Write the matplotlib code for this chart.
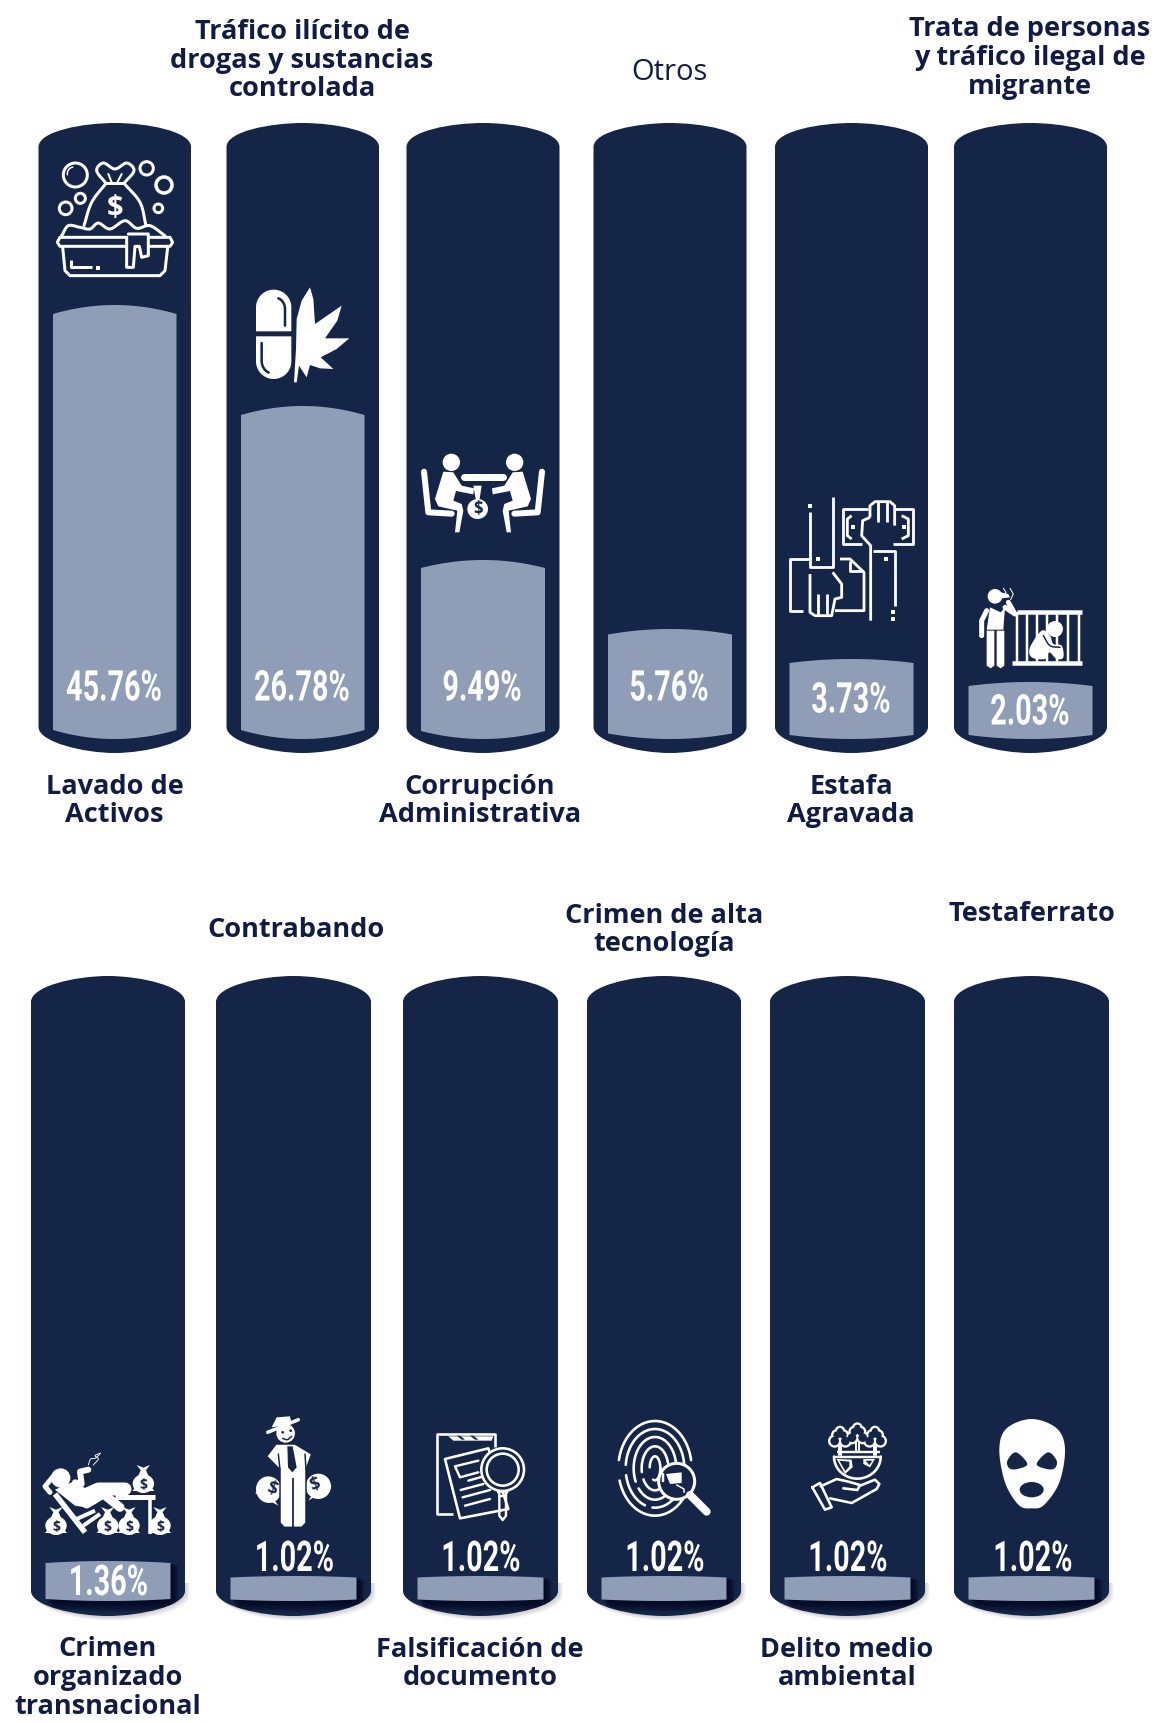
import numpy as np
import matplotlib
matplotlib.use('Agg')
import matplotlib.pyplot as plt
from matplotlib.path import Path
from matplotlib.patches import PathPatch, Polygon, Circle, Ellipse, Rectangle
from matplotlib.patheffects import AbstractPathEffect
from matplotlib.transforms import Affine2D

# ---------- data ----------
row1_values = [45.76, 26.78, 9.49, 5.76, 3.73, 2.03]
row2_values = [1.36, 1.02, 1.02, 1.02, 1.02, 1.02]
row1_names = ['Lavado de\nActivos', 'Tráfico ilícito de\ndrogas y sustancias\ncontrolada',
              'Corrupción\nAdministrativa', 'Otros', 'Estafa\nAgravada',
              'Trata de personas\ny tráfico ilegal de\nmigrante']
row2_names = ['Crimen\norganizado\ntransnacional', 'Contrabando', 'Falsificación de\ndocumento',
              'Crimen de alta\ntecnología', 'Delito medio\nambiental', 'Testaferrato']

# ---------- layout ----------
W, H = 1154, 1724
NAVY, FILL, INK = '#152548', '#8f9eb6', '#111c45'
row1_edges = [(38.5, 191), (226.5, 379), (406.5, 559.5), (593.5, 746.5), (775, 928), (954, 1107)]
row2_edges = [(31, 185), (216, 371), (403, 558), (587, 741), (770, 925), (954, 1109)]
INSET = 14.5
R1 = dict(top=124, sh_t=148, sh_b=728, bot=754, base=740)
R2 = dict(top=977, sh_t=1003, sh_b=1592, bot=1617, base=1602)
AXH = 616

# non-linear value scale of the original graphic: value -> pixel height
knot_v = [0, 1.02, 1.36, 2.03, 3.73, 5.76, 9.49, 26.78, 45.76, 100]
knot_h = [0, 25, 40, 57, 80, 110, 179, 333, 434, 616]
fwd = lambda v: np.interp(v, knot_v, knot_h)
inv = lambda h: np.interp(h, knot_h, knot_v)
depth = lambda v: float(np.interp(v, [1.02, 1.36, 2.03, 3.73, 5.76, 9.49, 26.78], [1.5, 2, 4, 4, 5.5, 8, 9]))

fig = plt.figure(figsize=(W / 100, H / 100), dpi=100, facecolor='white')

def pixel_axes(z):
    a = fig.add_axes([0, 0, 1, 1], zorder=z)
    a.set_xlim(0, W); a.set_ylim(H, 0); a.axis('off'); a.patch.set_alpha(0)
    return a

bg = pixel_axes(0)
ov = pixel_axes(5)

def value_axes(base):
    a = fig.add_axes([0, 1 - base / H, 1, AXH / H], zorder=2)
    a.set_xlim(0, W)
    a.set_yscale('function', functions=(fwd, inv))
    a.set_ylim(0, 100)
    a.axis('off'); a.patch.set_alpha(0)
    return a

def track_path(l, r, R, dx=0, dy=0):
    cx = (l + r) / 2
    v = [(l, R['sh_t']), (l, R['sh_t'] - 16), (l + 45, R['top']), (cx, R['top']),
         (r - 45, R['top']), (r, R['sh_t'] - 16), (r, R['sh_t']),
         (r, R['sh_b']), (r, R['sh_b'] + 15), (r - 45, R['bot']), (cx, R['bot']),
         (l + 45, R['bot']), (l, R['sh_b'] + 15), (l, R['sh_b']), (l, R['sh_t'])]
    c = [Path.MOVETO] + [Path.CURVE4] * 6 + [Path.LINETO] + [Path.CURVE4] * 6 + [Path.CLOSEPOLY]
    return Path([(x + dx, y + dy) for x, y in v], c)

def fill_outline(l, r, v):
    xs = np.linspace(l, r, 61)
    t = (xs - (l + r) / 2) / ((r - l) / 2)
    d = depth(v)
    top = fwd(v) - d * t ** 2
    bot = d * t ** 2
    return xs, top, bot

def draw_row(ax, edges, values, R, shadow=False):
    for (l, r), v in zip(edges, values):
        if shadow:
            clip_out = bg.add_patch(Rectangle((0, R['sh_b'] - 8), W, 60, fc='none', ec='none'))
            for k in range(1, 7):
                s = bg.add_patch(PathPatch(track_path(l, r, R, dx=k * 0.8, dy=k * 0.8), fc='k', ec='none',
                                           alpha=0.03, zorder=1))
                s.set_clip_path(clip_out)
        bg.add_patch(PathPatch(track_path(l, r, R), fc=NAVY, ec='none', zorder=2))
        xs, top, bot = fill_outline(l + INSET, r - INSET, v)
        if shadow:
            clip = PathPatch(track_path(l, r, R), transform=bg.transData, fc='none', ec='none')
            bg.add_patch(clip)
            for k in range(1, 10):
                px = np.r_[xs + k * 0.9, (xs + k * 0.9)[::-1]]
                py = np.r_[R['base'] - top + k * 0.3, (R['base'] - bot + k * 1.2)[::-1]]
                sh = bg.add_patch(Polygon(np.c_[px, py], fc='#03061f', ec='none', alpha=0.17, zorder=3))
                sh.set_clip_path(clip)
        ax.fill(np.r_[xs, xs[::-1]], inv(np.r_[top, bot[::-1]]), fc=FILL, ec='none')

ax1 = value_axes(R1['base'])
ax2 = value_axes(R2['base'])
draw_row(ax1, row1_edges, row1_values, R1)
draw_row(ax2, row2_edges, row2_values, R2, shadow=True)

# ---------- text ----------
LBL = 19.5
DY = 2
def label(x, y, s, weight='bold', size=LBL):
    ov.text(x, y + DY, s, ha='center', va='center', fontsize=size, color=INK, family='Open Sans',
            fontweight=weight, linespacing=1.135)

label(114.5, 799, row1_names[0])
label(302, 58.5, row1_names[1])
label(480, 799, row1_names[2])
label(669, 70, row1_names[3], 'medium', 21)
label(851, 799, row1_names[4])
label(1030, 56, row1_names[5])
label(108, 1676, row2_names[0])
label(296, 928, row2_names[1])
label(480, 1662, row2_names[2])
label(664, 928, row2_names[3])
label(847, 1662, row2_names[4])
label(1032, 912, row2_names[5])

class Condense(AbstractPathEffect):
    """Narrows a text horizontally about its anchor (the original uses a condensed face)."""
    def __init__(self, x_display, sx):
        super().__init__()
        self.xd, self.sx = x_display, sx
    def draw_path(self, renderer, gc, tpath, affine, rgbFace=None):
        squeeze = Affine2D().translate(-self.xd, 0).scale(self.sx, 1).translate(self.xd, 0)
        renderer.draw_path(gc, tpath, affine + squeeze, rgbFace)

pct_pos1 = [(114, 690), (302, 690), (482, 690), (669, 690), (851, 702), (1030, 714)]
pct_pos2 = [(108.5, 1584.5), (294.5, 1560.5), (481, 1560.5), (665, 1560.5), (848, 1560.5), (1033, 1560.5)]
for vals, pos in ((row1_values, pct_pos1), (row2_values, pct_pos2)):
    for v, (x, y) in zip(vals, pos):
        ov.text(x, y, f'{v:.2f}%', ha='center', va='center', color='white', fontsize=30.5,
                family='Roboto', fontweight='bold',
                path_effects=[Condense(ov.transData.transform((x, y))[0], 0.68)])

# ---------- icons (pictograms) ----------
WHITE = 'white'
def smooth(pts, closed=False, n=10):
    p = np.array(pts, float)
    if closed:
        p = np.vstack([p[-1], p, p[0], p[1]])
    else:
        p = np.vstack([2 * p[0] - p[1], p, 2 * p[-1] - p[-2]])
    out = []
    for i in range(1, len(p) - 2):
        a, b, c, d = p[i - 1], p[i], p[i + 1], p[i + 2]
        for t in np.linspace(0, 1, n, endpoint=False):
            out.append(0.5 * (2 * b + (c - a) * t + (2 * a - 5 * b + 4 * c - d) * t ** 2 + (3 * b - a - 3 * c + d) * t ** 3))
    out.append(p[-2])
    return np.array(out)

def arc_pts(x, y, rx, ry, a0, a1):
    t = np.radians(np.linspace(a0, a1, 40))
    return np.c_[x + rx * np.cos(t), y + ry * np.sin(t)]

class Ic:
    """Draws in zoomed-crop coordinates: x = ox + X/3, y = oy + Y/3."""
    def __init__(s, ox, oy, z=6):
        s.ox, s.oy, s.z = ox, oy, z
    def m(s, pts):
        p = np.array(pts, float)
        return np.c_[s.ox + p[:, 0] / 3, s.oy + p[:, 1] / 3]
    def line(s, pts, w=3, c=WHITE, sm=False, cap='round', z=0):
        p = s.m(pts)
        if sm:
            p = smooth(p)
        ov.plot(p[:, 0], p[:, 1], color=c, lw=w * 0.72, solid_capstyle=cap, solid_joinstyle='round', zorder=s.z + z)
    def poly(s, pts, c=WHITE, sm=False, z=0, ec=None, w=0):
        p = s.m(pts)
        if sm:
            p = smooth(p, closed=True)
        ov.add_patch(Polygon(p, closed=True, fc=c, ec=ec or 'none', lw=w * 0.72, zorder=s.z + z, joinstyle='round'))
    def circ(s, x, y, r, w=0, fc=WHITE, ec=WHITE, z=0):
        p = s.m([(x, y)])[0]
        ov.add_patch(Circle(p, r / 3, fc=fc, ec=ec if w else 'none', lw=w * 0.72, zorder=s.z + z))
    def ell(s, x, y, rx, ry, a=0, w=0, fc=WHITE, ec=WHITE, z=0):
        p = s.m([(x, y)])[0]
        ov.add_patch(Ellipse(p, 2 * rx / 3, 2 * ry / 3, angle=a, fc=fc, ec=ec if w else 'none', lw=w * 0.72, zorder=s.z + z))
    def dollar(s, x, y, size, c=NAVY, ch='$', rot=0, z=1):
        p = s.m([(x, y)])[0]
        ov.text(p[0], p[1], ch, color=c, fontsize=size, ha='center', va='center', family='Open Sans',
                fontweight='bold', rotation=rot, zorder=s.z + z)
    def arc(s, x, y, rx, ry, a0, a1, w=3, c=WHITE, z=0):
        s.line(arc_pts(x, y, rx, ry, a0, a1), w=w, c=c, z=z)

# 1 - money laundering: bag in a basin
i = Ic(0, 0)
for x, y, r, w in [(226, 528, 36, 3), (440, 508, 20, 3), (492, 558, 24, 3.5), (241, 598, 15, 3), (197, 628, 19, 3), (475, 628, 13, 3)]:
    i.circ(x, y, r, w=w, fc='none')
i.arc(222, 524, 20, 20, 170, 260, w=1.5)
i.line([(318, 553), (290, 515), (310, 492), (345, 510), (380, 492), (402, 515), (372, 553)], sm=True)
i.line([(318, 553), (372, 553)])
i.line([(325, 525), (335, 550)], w=2); i.line([(365, 525), (352, 550)], w=2)
i.line([(318, 553), (275, 610), (252, 680)], sm=True)
i.line([(372, 553), (420, 610), (438, 680)], sm=True)
i.dollar(345, 625, 21, c=WHITE, z=0)
i.line([(185, 710), (205, 680), (240, 685), (270, 690), (295, 672), (330, 690), (375, 665), (410, 688), (450, 680), (495, 710)], sm=True)
i.line([(180, 715), (510, 715), (518, 730), (510, 742), (180, 742), (172, 730), (180, 715)])
i.line([(188, 745), (195, 815), (210, 830), (480, 830), (495, 815), (503, 745)])
i.poly([(385, 705), (445, 705), (445, 770), (425, 775), (415, 740), (405, 745), (400, 805), (380, 805)], c=NAVY, z=1)
i.line([(385, 705), (445, 705), (445, 770), (425, 775), (418, 742), (405, 742), (400, 805), (380, 805), (380, 720)], w=3, z=2)
i.line([(212, 782), (212, 805), (275, 805)], w=3, cap='butt')
i.poly([(288, 800), (300, 800), (300, 812), (288, 812)])

# 2 - pill and leaf
i = Ic(0, 0)
i.poly(np.vstack([arc_pts(821, 925, 53, 53, 180, 360), [(874, 997), (768, 997)]]))
i.poly(np.vstack([arc_pts(821, 1087, 53, 53, 0, 180), [(768, 1012), (874, 1012)]]))
i.line(np.vstack([[(855, 980)], arc_pts(825, 930, 30, 34, 0, -70)]), w=2.5, c=NAVY, z=1)
i.line(np.vstack([[(785, 1032)], arc_pts(817, 1085, 32, 38, 180, 110)]), w=2.5, c=NAVY, z=1)
i.poly([(930, 865), (940, 900), (945, 975), (1025, 920), (1012, 965), (975, 1018), (1048, 1018), (1010, 1050), (962, 1075), (1000, 1110),
        (960, 1108), (930, 1098), (920, 1135), (897, 1100), (890, 1150), (882, 1150), (888, 1050), (890, 960), (905, 905)])

# 3 - corruption: two people at a table
i = Ic(400, 430)
for mir in (False, True):
    f = (lambda P: [(498 - x, y) for x, y in P]) if mir else (lambda P: P)
    hx = 344 if mir else 154
    i.circ(hx, 100, 26)
    i.line(f([(72, 128), (85, 250), (155, 254)]), w=6)
    i.poly(f([(130, 128), (160, 130), (185, 170), (222, 178), (220, 196), (168, 186), (160, 215), (185, 225), (190, 245),
              (178, 310), (165, 310), (172, 245), (115, 232), (105, 210)]))
i.line([(192, 145), (308, 145)], w=7)
i.ell(233, 240, 31, 30); i.poly([(220, 170), (245, 170), (238, 215), (228, 215)])
i.dollar(233, 238, 12)

# 4 - fraud: hands, bill, document
i = Ic(760, 480)
W4 = 2.8
for P in ([(150, 100), (150, 265), (218, 265), (218, 55)],
          [(325, 90), (250, 90), (250, 195), (305, 195)], [(405, 90), (460, 90), (460, 195), (400, 195)],
          [(275, 110), (262, 120), (262, 170), (275, 180)], [(425, 110), (445, 120), (445, 170), (425, 180)],
          [(330, 115), (330, 80), (345, 68), (390, 68), (404, 80), (404, 140)], [(355, 70), (355, 130)], [(380, 70), (380, 130)],
          [(330, 115), (308, 125), (305, 170), (332, 200), (332, 425)], [(340, 215), (405, 215), (405, 380)],
          [(130, 395), (90, 395), (90, 240), (150, 240)], [(240, 240), (270, 240), (312, 280), (312, 395), (225, 395)],
          [(270, 245), (270, 275), (305, 275)],
          [(150, 285), (150, 400), (165, 410), (215, 410), (225, 360), (245, 355), (245, 315), (218, 280)],
          [(175, 345), (175, 405)], [(200, 345), (200, 405)]):
    i.line(P, w=W4, cap='butt')
for x, y in [(150, 80), (278, 145), (432, 145), (378, 240), (174, 240), (400, 400), (400, 420)]:
    i.poly([(x - 6, y - 6), (x + 6, y - 6), (x + 6, y + 6), (x - 6, y + 6)])

# 5 - trafficking: man and cage
i = Ic(760, 480)
i.circ(705, 352, 22); i.poly([(700, 335), (745, 345), (750, 355), (710, 360)])
i.poly([(690, 385), (722, 400), (735, 385), (730, 452), (680, 452)])
i.line([(680, 395), (665, 425), (665, 470)], w=5); i.line([(735, 385), (765, 405), (745, 370)], w=5)
i.poly([(680, 455), (703, 455), (703, 560), (692, 568), (680, 560)]); i.poly([(710, 455), (733, 455), (733, 560), (722, 568), (710, 560)])
i.line([(730, 328), (738, 340), (733, 352)], w=1); i.line([(750, 328), (760, 345), (752, 362)], w=1)
i.line([(770, 400), (965, 400)], w=4.5, cap='butt'); i.line([(757, 552), (965, 552)], w=4.5, cap='butt')
for x in (772, 802, 832, 862, 892, 925, 958):
    i.line([(x, 400), (x, 552)], w=2.5, cap='butt')
i.circ(885, 450, 24)
i.poly([(845, 455), (870, 470), (880, 495), (905, 500), (910, 535), (890, 540), (868, 520), (855, 540), (815, 535), (810, 505)], sm=True)
i.line([(850, 470), (870, 500), (900, 505)], w=1.5, c=NAVY, sm=True, z=1)

# bag helper for row-2 icons
def bag(i, x, y, s=1.0, z=0):
    i.ell(x, y + 8 * s, 32 * s, 28 * s, z=z)
    i.poly([(x - 6 * s, y - 30 * s), (x + 6 * s, y - 30 * s), (x + 20 * s, y - 48 * s), (x, y - 40 * s), (x - 20 * s, y - 48 * s)], z=z)
    i.poly([(x - 8 * s, y - 32 * s), (x + 8 * s, y - 32 * s), (x + 20 * s, y - 5 * s), (x - 20 * s, y - 5 * s)], z=z)
    i.poly([(x - 33 * s, y + 30 * s), (x + 33 * s, y + 30 * s), (x + 25 * s, y + 20 * s), (x - 25 * s, y + 20 * s)], z=z)
    i.dollar(x, y + 8 * s, 10, z=z + 1)

# 6 - organised crime: reclining man and bags
i = Ic(0, 1400)
for x, y in [(168, 372), (323, 372), (387, 372), (480, 372), (430, 246)]:
    bag(i, x, y)
i.circ(182, 237, 29)
i.line([(150, 280), (135, 262), (160, 232)], w=5)
i.poly([(165, 272), (220, 248), (270, 275), (255, 325), (225, 320)])
i.line([(225, 250), (245, 255), (240, 218), (265, 212)], w=6)
i.line([(255, 288), (295, 270), (375, 270)], w=13)
i.line([(260, 315), (310, 285), (360, 325)], w=9)
i.line([(165, 285), (255, 400)], w=5.5, cap='butt')
i.line([(230, 360), (285, 335)], w=4, cap='butt'); i.line([(250, 380), (300, 345)], w=4, cap='butt')
i.line([(345, 295), (465, 295)], w=5, cap='butt'); i.line([(450, 295), (450, 405)], w=3.5, cap='butt')
i.line([(265, 198), (272, 180), (285, 178), (300, 165)], w=0.9, sm=True); i.line([(280, 198), (295, 180), (285, 170), (302, 162)], w=0.9, sm=True)

# 7 - smuggling: man with bags
i = Ic(0, 1400)
i.ell(806, 272, 38, 40, a=-15); i.ell(955, 262, 38, 38, a=15)
i.poly([(765, 282), (800, 270), (835, 320)]); i.poly([(995, 262), (960, 250), (925, 305)])
i.dollar(815, 268, 13, rot=-18); i.dollar(945, 255, 13, rot=20)
i.poly([(828, 135), (885, 135), (935, 165), (918, 212), (918, 372), (905, 385), (853, 385), (840, 372), (840, 212), (800, 172)], ec=NAVY, w=1.5, z=1)
i.line([(878, 238), (878, 385)], w=1.8, c=NAVY, cap='butt', z=2)
i.poly([(862, 142), (878, 142), (890, 205), (877, 220), (864, 205)], c=NAVY, z=2)
i.line([(835, 165), (840, 212)], w=1.5, c=NAVY, z=2); i.line([(915, 165), (918, 212)], w=1.5, c=NAVY, z=2)
i.circ(857, 103, 28, z=3)
i.circ(848, 100, 4, fc=NAVY, z=4); i.circ(872, 95, 4, fc=NAVY, z=4)
i.line([(848, 118), (862, 122), (875, 112)], w=1.5, c=NAVY, sm=True, z=4)
i.poly([(815, 85), (830, 55), (870, 52), (875, 75)], z=4); i.line([(803, 100), (895, 62)], w=3.5, z=5)

# 8 - document forgery
i = Ic(410, 1410)
i.line([(130, 315), (82, 315), (82, 75), (255, 75), (255, 115)], w=2.6, cap='butt')
i.poly([(115, 82), (130, 95), (245, 95), (250, 82)], ec=None)
i.poly([(140, 80), (155, 92), (165, 92), (150, 80)], c=NAVY, z=1); i.poly([(180, 80), (195, 92), (205, 92), (190, 80)], c=NAVY, z=1)
i.poly([(105, 150), (235, 118), (295, 300), (150, 328)], c=NAVY, ec=WHITE, w=2.6, z=1)
i.line([(205, 155), (135, 172), (150, 205), (205, 190)], w=2.4, z=2)
for k, P in enumerate([[(175, 215), (235, 198)], [(152, 243), (220, 225)], [(158, 265), (240, 243)], [(165, 290), (240, 270)]]):
    i.line(P, w=2.4, z=2)
i.circ(278, 182, 64, w=2.6, fc=NAVY, z=3); i.circ(278, 182, 48, w=2.6, fc=NAVY, z=3)
i.line([(264, 248), (268, 255), (268, 320), (278, 333), (288, 320), (288, 255), (292, 248), (264, 248)], w=2.4, z=3)
i.line([(268, 262), (288, 262)], w=2.4, z=3)

# 9 - high-tech crime: fingerprint and magnifier
i = Ic(410, 1410)
for rx, ry, spans in [(110, 142, [(20, 165), (190, 350)]), (88, 118, [(30, 95), (110, 170), (185, 355)]),
                      (64, 94, [(0, 140), (155, 350)]), (40, 66, [(-10, 150), (170, 345)]), (16, 36, [(185, 360), (0, 110)])]:
    for a0, a1 in spans:
        i.arc(735, 178, rx, ry, a0, a1, w=2.6)
i.circ(800, 217, 54, w=3, fc=NAVY, z=1)
i.line([(840, 258), (890, 308)], w=8, z=1)
i.poly([(768, 195), (815, 190), (815, 222), (780, 225)], z=2)
i.line([(760, 195), (760, 215)], w=2.5, z=2); i.line([(800, 228), (822, 240), (822, 250)], w=1.5, z=2)

# 10 - environmental crime: globe, trees, hand
i = Ic(780, 1410)
lobes = [(-16, 4, 13), (16, 4, 13), (-9, -14, 11), (9, -14, 11), (0, -26, 9)]
for x, y in [(180, 92), (232, 82), (285, 92)]:
    for dx, dy, r in lobes:
        i.circ(x + dx, y + dy, r + 7)
for x, y in [(180, 92), (232, 82), (285, 92)]:
    for dx, dy, r in lobes:
        i.circ(x + dx, y + dy, r, fc=NAVY, z=1)
    i.line([(x - 4, y + 18), (x - 4, y + 45)], w=2, z=2); i.line([(x + 4, y + 18), (x + 4, y + 45)], w=2, z=2)
i.line([(170, 128), (300, 128)], w=2.4, cap='butt'); i.line([(160, 143), (305, 143)], w=2.4, cap='butt')
i.arc(232, 143, 70, 66, 0, 180, w=2.6)
i.poly([(170, 150), (215, 152), (218, 175), (195, 195)], c=WHITE); i.poly([(250, 150), (285, 150), (270, 175), (250, 165)], c=WHITE)
i.poly([(178, 155), (208, 158), (208, 172), (196, 186)], c=NAVY, z=1); i.poly([(257, 155), (277, 155), (268, 168)], c=NAVY, z=1)
i.line([(97, 235), (120, 222), (155, 295), (135, 302), (97, 235)], w=2.6)
i.line([(122, 232), (170, 210), (205, 218), (240, 228), (232, 243), (190, 238)], w=2.6)
i.line([(240, 230), (285, 212), (298, 225), (290, 240), (215, 282), (150, 268)], w=2.6)

# 11 - front-man: mask
i = Ic(780, 1410)
i.poly([(755, 30), (830, 58), (855, 120), (838, 220), (792, 288), (755, 298), (716, 288), (675, 220), (658, 120), (680, 58)], sm=True)
i.poly([(682, 155), (708, 130), (742, 165), (712, 180), (688, 178)], c=NAVY, sm=True, z=1)
i.poly([(830, 155), (804, 130), (770, 165), (800, 180), (824, 178)], c=NAVY, sm=True, z=1)
i.ell(755, 242, 36, 23, fc=NAVY, z=1)

fig.savefig('out.png', dpi=100)
